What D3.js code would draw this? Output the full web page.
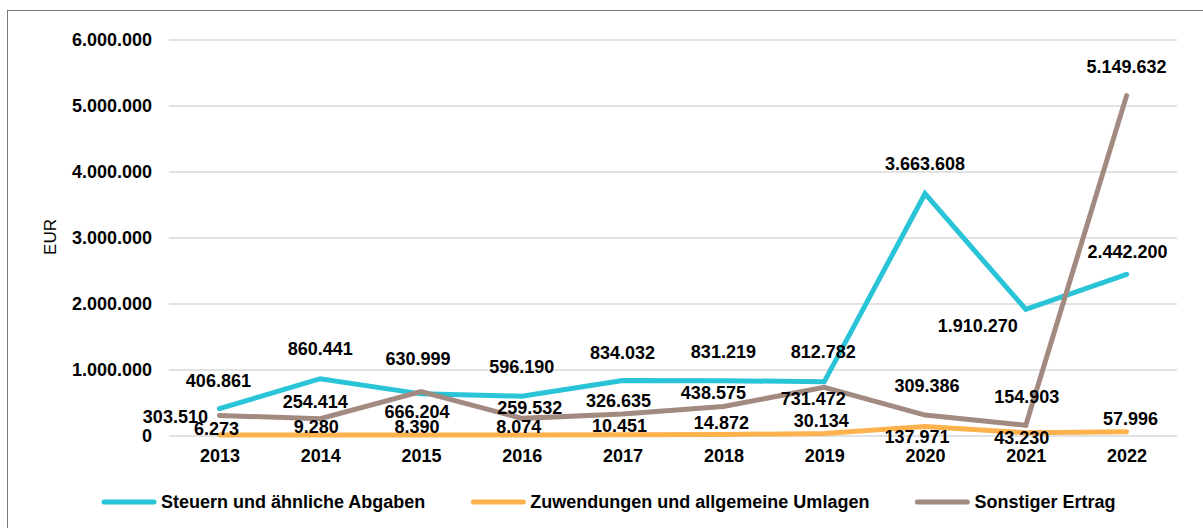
<!DOCTYPE html>
<html>
<head>
<meta charset="utf-8">
<script src="https://cdn.jsdelivr.net/npm/d3@7"></script>
<style>
  body { margin: 0; background: #fff; }
  svg { display: block; font-family: "Liberation Sans", Arial, sans-serif; }
  .tick text { font-size: 18px; font-weight: bold; fill: #000; }
</style>
</head>
<body>
<div id="chart"></div>
<script>
var years = ["2013", "2014", "2015", "2016", "2017", "2018", "2019", "2020", "2021", "2022"];
var steuern = [406861, 860441, 630999, 596190, 834032, 831219, 812782, 3663608, 1910270, 2442200];
var zuwendungen = [6273, 9280, 8390, 8074, 10451, 14872, 30134, 137971, 43230, 57996];
var sonstiger = [303510, 254414, 666204, 259532, 326635, 438575, 731472, 309386, 154903, 5149632];
var seriesNames = ["Steuern und ähnliche Abgaben", "Zuwendungen und allgemeine Umlagen", "Sonstiger Ertrag"];
var yTicks = [0, 1000000, 2000000, 3000000, 4000000, 5000000, 6000000];

// label nudges relative to the point [dx, dy]
var offSteuern = [[-1,-28],[0,-30],[-3,-35],[0,-29],[0,-28],[0,-29],[-1,-30],[0,-30],[-48,16],[1,-23]];
var offZuw = [[-3,-6],[-4,-8],[-4,-8],[-3,-8],[-3,-9],[-2,-12],[-3,-13],[-8,10],[-4,5],[4,-13]];
var offSonst = [[-44,1],[-5,-17],[-4,20],[8,-11],[-4,-13],[-10,-14],[-11,11],[2,-29],[1,-29],[0,-29]];

var colors = ["#29C4D7", "#FDB24E", "#A38A80"];

function init() {
    var w = 1203, h = 528;
    var left = 169, right = 1177, top = 39.5, bottom = 435.5;

    var de = d3.formatLocale({decimal: ",", thousands: ".", grouping: [3], currency: ["", "€"]});
    var fmt = de.format(",d");

    var svg = d3.select("#chart").append("svg")
        .attr("width", w)
        .attr("height", h);

    // frame
    svg.append("rect")
        .attr("x", 7.5).attr("y", 10.5)
        .attr("width", 1210).attr("height", 540)
        .attr("fill", "none")
        .attr("stroke", "#7a7a7a")
        .attr("stroke-width", 1);

    var xScale = d3.scalePoint()
        .domain(years)
        .range([left, right])
        .padding(0.5);

    var yScale = d3.scaleLinear()
        .domain([0, 6000000])
        .range([bottom, top]);

    // grid + y labels
    var yAxis = svg.append("g")
        .attr("transform", "translate(" + left + ",0)")
        .call(d3.axisLeft(yScale)
            .tickValues(yTicks)
            .tickFormat(fmt)
            .tickSize(-(right - left))
            .tickPadding(17));
    yAxis.select(".domain").remove();
    yAxis.selectAll(".tick line")
        .attr("stroke", "#d9d9d9")
        .attr("stroke-width", 1.5);

    // x labels
    var xAxis = svg.append("g")
        .attr("transform", "translate(0," + bottom + ")")
        .call(d3.axisBottom(xScale).tickSize(0).tickPadding(14));
    xAxis.select(".domain").remove();

    svg.append("text")
        .attr("transform", "translate(50,237) rotate(-90)")
        .attr("text-anchor", "middle")
        .attr("dy", "0.35em")
        .style("font-size", "17px")
        .text("EUR");

    var series = [
        {name: seriesNames[0], values: steuern, off: offSteuern, color: colors[0]},
        {name: seriesNames[1], values: zuwendungen, off: offZuw, color: colors[1]},
        {name: seriesNames[2], values: sonstiger, off: offSonst, color: colors[2]}
    ];

    var line = d3.line()
        .x(function(d, i) { return xScale(years[i]); })
        .y(function(d) { return yScale(d); });

    series.forEach(function(s) {
        svg.append("path")
            .datum(s.values)
            .attr("d", line)
            .attr("fill", "none")
            .attr("stroke", s.color)
            .attr("stroke-width", 5)
            .attr("stroke-linecap", "round")
            .attr("stroke-linejoin", "miter");
    });

    series.forEach(function(s) {
        svg.selectAll(null)
            .data(s.values)
            .enter()
            .append("text")
            .attr("x", function(d, i) { return xScale(years[i]) + s.off[i][0]; })
            .attr("y", function(d, i) { return yScale(d) + s.off[i][1]; })
            .attr("dy", "0.35em")
            .attr("text-anchor", "middle")
            .style("font-size", "18px")
            .style("font-weight", "bold")
            .text(function(d) { return fmt(d); });
    });

    // legend
    var lg = svg.append("g");
    var lx = 102, ly = 502;
    series.forEach(function(s) {
        lg.append("line")
            .attr("x1", lx + 2).attr("x2", lx + 52)
            .attr("y1", ly).attr("y2", ly)
            .attr("stroke", s.color)
            .attr("stroke-width", 5)
            .attr("stroke-linecap", "round");
        var t = lg.append("text")
            .attr("x", lx + 59)
            .attr("y", ly)
            .attr("dy", "0.35em")
            .style("font-size", "18px")
            .style("font-weight", "bold")
            .text(s.name);
        lx = lx + 59 + t.node().getComputedTextLength() + 46;
    });
}

window.onload = init;
</script>
</body>
</html>
